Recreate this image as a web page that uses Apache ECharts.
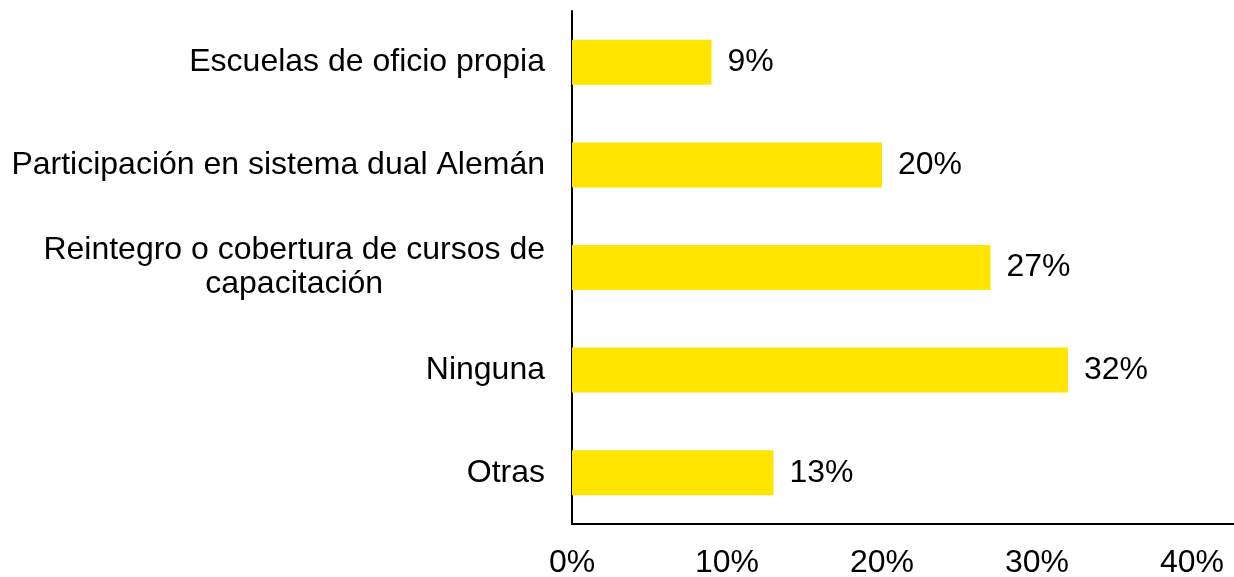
<!DOCTYPE html>
<html>
<head>
<meta charset="utf-8">
<script src="https://cdn.jsdelivr.net/npm/echarts@6/dist/echarts.min.js"></script>
<style>
  html, body { margin: 0; padding: 0; background: #ffffff; }
  #chart { width: 1234px; height: 577px; }
</style>
</head>
<body>
<div id="chart"></div>
<script>
// categories, top to bottom
const categories = [
  'Escuelas de oficio propia',
  'Participación en sistema dual Alemán',
  'Reintegro o cobertura de cursos de\ncapacitación',
  'Ninguna',
  'Otras'
];
// percent values
const values = [9, 20, 27, 32, 13];
const tickLabels = ['0%', '10%', '20%', '30%', '40%'];

const font = 'Liberation Sans, Arial, sans-serif';
const chart = echarts.init(document.getElementById('chart'));

const options = {
  animation: false,
  grid: {
    left: 572,
    right: 0,
    top: 11,
    bottom: 53,
    containLabel: false,
    outerBoundsMode: 'none'
  },
  xAxis: {
    type: 'value',
    min: 0,
    max: 42.71,
    interval: 10,
    splitLine: { show: false },
    axisTick: { show: false },
    axisLine: {
      show: true,
      lineStyle: { color: '#000000', width: 2 }
    },
    axisLabel: {
      margin: 23,
      fontSize: 32,
      fontFamily: font,
      color: '#000000',
      formatter: function (value) {
        const i = value / 10;
        return Number.isInteger(i) && i < tickLabels.length ? tickLabels[i] : '';
      }
    }
  },
  yAxis: {
    type: 'category',
    inverse: true,
    data: categories,
    axisTick: { show: false },
    axisLine: {
      show: true,
      lineStyle: { color: '#000000', width: 2 }
    },
    axisLabel: {
      margin: 27,
      color: '#000000',
      formatter: function (value) {
        return value.split('\n').map(function (s) { return '{c|' + s + '}'; }).join('\n');
      },
      rich: {
        c: {
          align: 'center',
          fontSize: 32,
          lineHeight: 34,
          fontFamily: font,
          color: '#000000'
        }
      }
    }
  },
  series: [
    {
      type: 'bar',
      data: values,
      barWidth: 45,
      itemStyle: { color: '#FFE500' },
      label: {
        show: true,
        position: 'right',
        distance: 16,
        fontSize: 32,
        fontFamily: font,
        color: '#000000',
        formatter: '{c}%'
      }
    }
  ]
};

chart.setOption(options);
window.onresize = () => {
  chart.resize();
};
</script>
</body>
</html>
